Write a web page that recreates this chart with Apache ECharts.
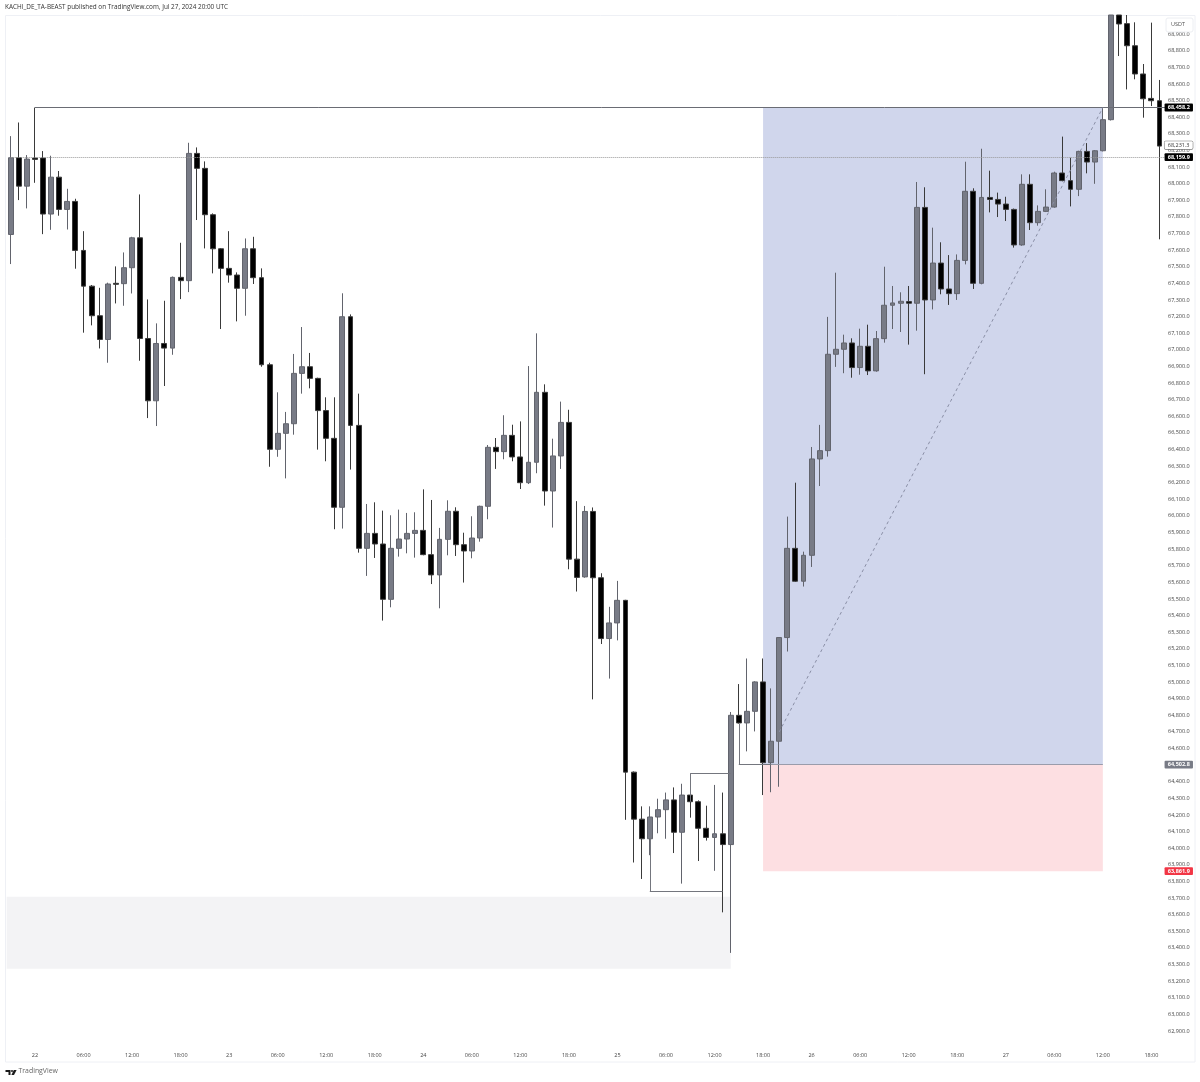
<!DOCTYPE html>
<html>
<head>
<meta charset="utf-8">
<style>html,body{margin:0;padding:0;background:#fff}#c{width:1200px;height:1082px}</style>
<script src="https://cdn.jsdelivr.net/npm/echarts@6/dist/echarts.min.js"></script>
</head>
<body>
<div id="c"></div>
<script>
const opens = [
67694,68156,67985,68154,68154,67817,68039,67845,67893,67598,
67383,67205,67062,67400,67398,67494,67674,67068,66693,67038,
67010,67436,67416,68182,68092,67813,67608,67490,67450,67370,
67608,67434,66910,66401,66497,66555,66858,66898,66828,66634,
66467,66052,67199,66545,65805,65895,65831,65498,65805,65861,
65895,65913,65767,65645,65859,66028,65827,65789,65867,66058,
66413,66387,66485,66355,66200,66323,66744,66150,66361,66563,
65740,65633,66027,65628,65262,65356,65492,64458,64175,64057,
64188,64232,64291,64096,64320,64280,64120,64065,64087,64022,
64800,64754,64824,65001,64515,64644,65268,65805,65607,65763,
66343,66393,66973,67003,67041,66893,67021,66873,67067,67268,
67280,67290,67280,67857,67300,67522,67366,67338,67538,67954,
67400,67917,67905,67877,67845,67631,67996,67765,67833,67859,
68064,68018,67966,68194,68130,68198,68385,69015,68963,68830,
68660,68513,68499];
const closes = [
68156,67985,68148,68146,67817,68039,67845,67893,67598,67383,
67205,67062,67396,67394,67494,67674,67068,66693,67038,67010,
67436,67416,68182,68092,67813,67608,67490,67450,67370,67608,
67434,66910,66401,66497,66555,66858,66898,66828,66634,66467,
66052,67199,66545,65805,65895,65831,65498,65805,65861,65895,
65913,65767,65645,65859,66028,65827,65789,65867,66058,66413,
66387,66485,66355,66200,66323,66744,66150,66361,66563,65740,
65630,66027,65628,65262,65356,65492,64458,64175,64057,64188,
64232,64291,64096,64320,64280,64120,64065,64087,64022,64800,
64754,64824,65001,64515,64644,65268,65805,65607,65763,66343,
66393,66973,67003,67041,66893,67021,66873,67067,67268,67282,
67292,67280,67857,67300,67522,67366,67338,67538,67954,67400,
67917,67905,67877,67845,67631,67996,67765,67833,67859,68064,
68018,67966,68194,68130,68198,68385,69015,68961,68830,68660,
68511,68499,68226];
const highs = [
68286,68368,68172,68458,68196,68168,68076,67969,67909,67714,
67390,67373,67404,67502,67586,67680,67935,67303,67159,67295,
67441,67644,68246,68218,68134,67821,67612,67714,67466,67670,
67680,67490,66922,66744,66626,66975,67137,66981,66832,66714,
66714,67340,67213,66736,66072,66082,66032,66004,66038,66018,
66022,66160,66096,65928,66094,66052,65899,65998,66062,66427,
66469,66606,66549,66569,66902,67099,66792,66465,66688,66639,
66089,66060,66051,65655,65453,65609,65495,64462,64252,64252,
64298,64335,64366,64388,64375,64288,64256,64381,64335,64820,
64988,65142,65005,65142,64962,65268,65996,66200,65785,66415,
66548,67198,67464,67091,67069,67127,67151,67113,67500,67384,
67346,67384,68010,67978,67735,67647,67570,67574,68132,67972,
68210,68078,67946,67921,67850,68056,68056,67869,67966,68072,
68283,68156,68198,68244,68202,68457,69015,69015,69015,68971,
68720,68969,68624];
const lows = [
67516,67901,67851,68005,67696,67722,67807,67724,67488,67103,
67147,67008,66922,67279,67265,67339,66934,66589,66541,66782,
66970,67305,67347,67781,67610,67460,67125,67404,67171,67205,
67396,66898,66296,66356,66226,66489,66736,66768,66399,66329,
65920,65924,66279,65779,65639,65747,65370,65450,65755,65775,
65749,65763,65590,65444,65763,65759,65599,65745,65845,65980,
66283,66341,66329,66162,66192,66257,66062,65930,66283,65679,
65545,65628,64896,65229,65021,65251,64171,63914,63815,63958,
64090,64057,63971,63787,64184,63923,64046,63864,63614,63370,
64750,64583,64703,64320,64337,64370,65184,65603,65575,65693,
66180,66357,66897,66859,66832,66850,66848,66868,67043,67125,
67107,67031,67115,66853,67243,67334,67270,67300,67514,67366,
67394,67827,67799,67775,67615,67626,67721,67747,67829,67855,
68014,67863,67925,68062,67999,68194,68380,68768,68567,68628,
68397,68467,67665];

// one hourly label for each slot, starting on the 21st at 21:00
const dayLabels = ['22','23','24','25','26','27'];
const clockLabels = ['00:00','01:00','02:00','03:00','04:00','05:00','06:00','07:00','08:00','09:00','10:00','11:00','12:00','13:00','14:00','15:00','16:00','17:00','18:00','19:00','20:00','21:00','22:00','23:00'];
const slotCount = 144, firstDaySlot = 3, labelStep = 6;
const categories = [];
for (let i = 0; i < slotCount; i++) {
  const h = ((i - firstDaySlot) % 24 + 24) % 24;
  const d = Math.floor((i - firstDaySlot) / 24);
  categories.push(h === 0 ? dayLabels[d] : clockLabels[h]);
}

// levels drawn on the chart (prices)
const levelHigh = 68458.2, levelMid = 68231.3, levelLast = 68159.9, levelEntry = 64502.8, levelStop = 63861.9;
const grayZone = [63708, 63275], grayZoneEnd = 89;
const zoneStart = 93, zoneEnd = 135, lastSlot = 143;
const bracketUpper = {from: 84, to: 89, price: 64451, start: 64280};
const bracketLower = {from: 79, to: 88, price: 63739, start: 64057};
const bracketEntry = {from: 90, to: 94, start: 64750};
const diagonal = {from: 95, fromPrice: 64700, to: 135, toPrice: 68458};

const FONT = '"Open Sans", sans-serif';
const fmt = v => v.toLocaleString('en-US', {minimumFractionDigits: 1, maximumFractionDigits: 1});
const GRAY = '#787b86', LINE = '#74767e', CLEAR = 'rgba(0,0,0,0)';
const seg = (x0, y0, x1, y1, style) => [{coord: [x0, y0], lineStyle: style}, {coord: [x1, y1]}];
const tag = (price, bg, col, border) => ({
  show: true, position: 'end', distance: -3, formatter: fmt(price), color: col, backgroundColor: bg,
  borderColor: border || bg, borderWidth: border ? 0.6 : 0, borderRadius: 1,
  padding: [1.2, 3.2, 0.6, 3.2], fontFamily: FONT, fontSize: 5.5, fontWeight: border ? 'normal' : 'bold'
});
const tagLine = (x0, price, style, label) => [{coord: [x0, price], lineStyle: style, label}, {coord: [lastSlot, price]}];

const chart = echarts.init(document.getElementById('c'), null, {renderer: 'canvas'});
chart.setOption({
  animation: false,
  backgroundColor: '#fff',
  title: {
    text: 'KACHI_DE_TA-BEAST published on TradingView.com, Jul 27, 2024 20:00 UTC',
    left: 5, top: 4, padding: 0,
    textStyle: {fontFamily: FONT, fontSize: 6.4, fontWeight: 'normal', color: '#333'}
  },
  grid: {left: 6.655, top: 15, width: 8.09 * slotCount, height: 1032.6, containLabel: false, show: false},
  xAxis: {
    type: 'category', data: categories, boundaryGap: true,
    axisLine: {show: false}, axisTick: {show: false}, splitLine: {show: false},
    axisLabel: {
      interval: i => i >= firstDaySlot && (i - firstDaySlot) % labelStep === 0,
      margin: 5, fontFamily: FONT, fontSize: 5.5, color: '#444'
    }
  },
  yAxis: {
    type: 'value', position: 'right', offset: -6.6, min: 62800, max: 69015, interval: 100, scale: true,
    axisLine: {show: false}, axisTick: {show: false}, splitLine: {show: false},
    axisLabel: {
      margin: 3, fontFamily: FONT, fontSize: 5.5, color: '#444',
      formatter: v => (v <= 62800 || v >= 69000) ? '' : fmt(v)
    }
  },
  series: [{
    type: 'candlestick',
    data: opens.map((o, i) => [o, closes[i], lows[i], highs[i]]),
    barWidth: 5.4,
    itemStyle: {color: GRAY, color0: '#000', borderColor: '#62646d', borderColor0: '#3a3a3a', borderWidth: 1},
    markArea: {
      silent: true,
      data: [
        [{xAxis: zoneStart, yAxis: levelHigh, itemStyle: {color: '#d0d6ec'}}, {xAxis: zoneEnd, yAxis: levelEntry}],
        [{xAxis: zoneStart, yAxis: levelEntry, itemStyle: {color: '#fddfe2'}}, {xAxis: zoneEnd, yAxis: levelStop}],
        [{yAxis: grayZone[0], itemStyle: {color: '#f3f3f5'}}, {xAxis: grayZoneEnd, yAxis: grayZone[1]}]
      ]
    },
    markLine: {
      silent: true, symbol: 'none', animation: false,
      label: {show: false},
      lineStyle: {color: LINE, width: 1, type: 'solid'},
      data: [
        tagLine(firstDaySlot, levelHigh, {color: '#6a6c74', width: 1, type: 'solid'}, tag(levelHigh, '#000', '#fff')),
        tagLine(0, levelLast, {color: '#999', width: 1, type: 'dotted'}, tag(levelLast, '#000', '#fff')),
        tagLine(lastSlot - 1, levelMid, {color: CLEAR}, tag(levelMid, '#fff', '#333', '#777')),
        tagLine(zoneEnd, levelEntry, {color: CLEAR}, tag(levelEntry, GRAY, '#fff')),
        tagLine(zoneEnd, levelStop, {color: CLEAR}, tag(levelStop, '#f23645', '#fff')),
        seg(zoneStart, levelEntry, zoneEnd, levelEntry, {color: '#9a9cab', width: 1, type: 'solid'}),
        seg(bracketEntry.from, bracketEntry.start, bracketEntry.from, levelEntry, {color: LINE, width: 1, type: 'solid'}),
        seg(bracketEntry.from, levelEntry, bracketEntry.to, levelEntry, {color: LINE, width: 1, type: 'solid'}),
        seg(bracketUpper.from, bracketUpper.start, bracketUpper.from, bracketUpper.price, {color: LINE, width: 1, type: 'solid'}),
        seg(bracketUpper.from, bracketUpper.price, bracketUpper.to, bracketUpper.price, {color: LINE, width: 1, type: 'solid'}),
        seg(bracketLower.from, bracketLower.start, bracketLower.from, bracketLower.price, {color: LINE, width: 1, type: 'solid'}),
        seg(bracketLower.from, bracketLower.price, bracketLower.to, bracketLower.price, {color: LINE, width: 1, type: 'solid'}),
        seg(diagonal.from, diagonal.fromPrice, diagonal.to, diagonal.toPrice, {color: '#8a8fa6', width: 1, type: [3, 3]})
      ]
    }
  }],
  graphic: [
    {type: 'rect', z: 0, silent: true, shape: {x: 5.5, y: 15.5, width: 1189.5, height: 1046.5},
     style: {fill: 'none', stroke: '#eef0f5', lineWidth: 1}},
    {type: 'rect', z: 100, silent: true, shape: {x: 1166, y: 18, width: 27, height: 14, r: 2},
     style: {fill: '#fff', stroke: '#eceef2', lineWidth: 1}},
    {type: 'text', z: 101, silent: true, x: 1171, y: 21.6,
     style: {text: 'USDT', font: '5.5px ' + FONT, fill: '#555'}},
    {type: 'polygon', z: 101, silent: true,
     shape: {points: [[5.5, 1070], [10.5, 1070], [10.5, 1075], [8.5, 1075], [8.5, 1072], [5.5, 1072]]},
     style: {fill: '#1a1a1a'}},
    {type: 'circle', z: 101, silent: true, shape: {cx: 12, cy: 1071, r: 1}, style: {fill: '#1a1a1a'}},
    {type: 'polygon', z: 101, silent: true,
     shape: {points: [[13.8, 1070], [16.6, 1070], [14, 1075], [11.4, 1075]]},
     style: {fill: '#1a1a1a'}},
    {type: 'text', z: 101, silent: true, x: 18.5, y: 1068,
     style: {text: 'TradingView', font: '6.9px ' + FONT, fill: '#666'}}
  ]
});
</script>
</body>
</html>
